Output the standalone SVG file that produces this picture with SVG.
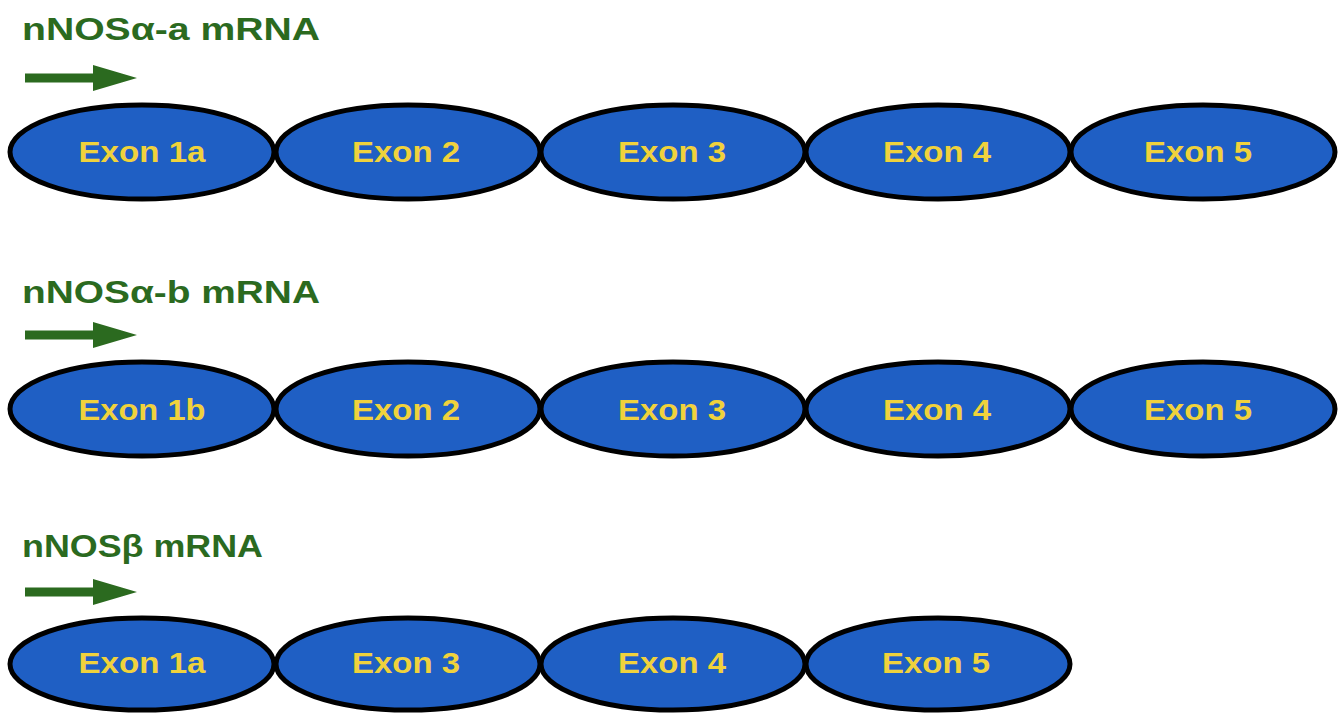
<svg xmlns="http://www.w3.org/2000/svg" width="1342" height="718" viewBox="0 0 1342 718">
<style>
.title{font-family:"Liberation Sans",Arial,sans-serif;font-weight:bold;font-size:31px;fill:#2b6a1f}
.exon ellipse{fill:#1f5fc4;stroke:#000;stroke-width:5}
.exon text{font-family:"Liberation Sans",Arial,sans-serif;font-weight:bold;font-size:30px;fill:#f0d23c;text-anchor:middle}
.arrow{fill:#2b6a1f}
</style>
<defs>
<path id="arr" d="M25,-4.5 H93 V-13 L137,0 L93,13 V4.5 H25 Z"/>
</defs>
<rect width="1342" height="718" fill="#fff"/>
<g id="row1">
<text class="title" x="22" y="40" textLength="298" lengthAdjust="spacingAndGlyphs">nNOSα-a mRNA</text>
<use href="#arr" class="arrow" y="78"/>
<g id="r1e1" class="exon"><ellipse cx="142" cy="152" rx="132" ry="47"/><text x="142" y="162" textLength="127" lengthAdjust="spacingAndGlyphs">Exon 1a</text></g>
<g id="r1e2" class="exon"><ellipse cx="408" cy="152" rx="132" ry="47"/><text x="406" y="162" textLength="108" lengthAdjust="spacingAndGlyphs">Exon 2</text></g>
<g id="r1e3" class="exon"><ellipse cx="673" cy="152" rx="132" ry="47"/><text x="672" y="162" textLength="108" lengthAdjust="spacingAndGlyphs">Exon 3</text></g>
<g id="r1e4" class="exon"><ellipse cx="938" cy="152" rx="132" ry="47"/><text x="937" y="162" textLength="108" lengthAdjust="spacingAndGlyphs">Exon 4</text></g>
<g id="r1e5" class="exon"><ellipse cx="1203" cy="152" rx="132" ry="47"/><text x="1198" y="162" textLength="108" lengthAdjust="spacingAndGlyphs">Exon 5</text></g>
</g>
<g id="row2">
<text class="title" x="22" y="303" textLength="298" lengthAdjust="spacingAndGlyphs">nNOSα-b mRNA</text>
<use href="#arr" class="arrow" y="335"/>
<g id="r2e1" class="exon"><ellipse cx="142" cy="409" rx="132" ry="47"/><text x="142" y="420" textLength="127" lengthAdjust="spacingAndGlyphs">Exon 1b</text></g>
<g id="r2e2" class="exon"><ellipse cx="408" cy="409" rx="132" ry="47"/><text x="406" y="420" textLength="108" lengthAdjust="spacingAndGlyphs">Exon 2</text></g>
<g id="r2e3" class="exon"><ellipse cx="673" cy="409" rx="132" ry="47"/><text x="672" y="420" textLength="108" lengthAdjust="spacingAndGlyphs">Exon 3</text></g>
<g id="r2e4" class="exon"><ellipse cx="938" cy="409" rx="132" ry="47"/><text x="937" y="420" textLength="108" lengthAdjust="spacingAndGlyphs">Exon 4</text></g>
<g id="r2e5" class="exon"><ellipse cx="1203" cy="409" rx="132" ry="47"/><text x="1198" y="420" textLength="108" lengthAdjust="spacingAndGlyphs">Exon 5</text></g>
</g>
<g id="row3">
<text class="title" x="22" y="557" textLength="241" lengthAdjust="spacingAndGlyphs">nNOSβ mRNA</text>
<use href="#arr" class="arrow" y="592"/>
<g id="r3e1" class="exon"><ellipse cx="142" cy="664" rx="132" ry="46"/><text x="142" y="673" textLength="127" lengthAdjust="spacingAndGlyphs">Exon 1a</text></g>
<g id="r3e2" class="exon"><ellipse cx="408" cy="664" rx="132" ry="46"/><text x="406" y="673" textLength="108" lengthAdjust="spacingAndGlyphs">Exon 3</text></g>
<g id="r3e3" class="exon"><ellipse cx="673" cy="664" rx="132" ry="46"/><text x="672" y="673" textLength="108" lengthAdjust="spacingAndGlyphs">Exon 4</text></g>
<g id="r3e4" class="exon"><ellipse cx="938" cy="664" rx="132" ry="46"/><text x="936" y="673" textLength="108" lengthAdjust="spacingAndGlyphs">Exon 5</text></g>
</g>
</svg>
